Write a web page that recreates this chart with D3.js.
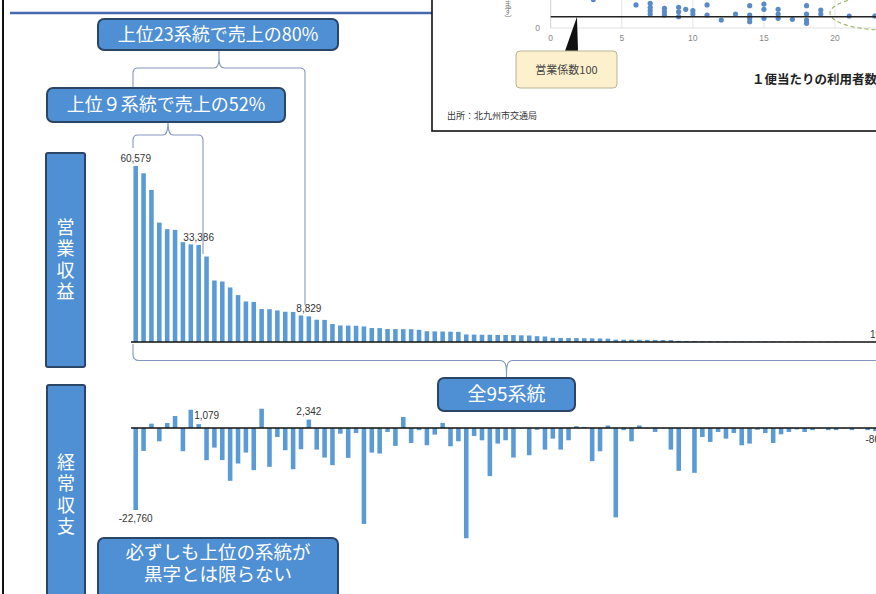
<!DOCTYPE html>
<html><head><meta charset="utf-8">
<script src="https://cdn.jsdelivr.net/npm/d3@7"></script>
<style>
html,body{margin:0;padding:0;background:#fff;}
svg{display:block;}
</style></head><body>
<svg id="c" width="876" height="594"></svg>
<script>
// Route rank (1 = largest operating revenue)
const ranks = d3.range(1, 96);

// 営業収益 per route, sorted descending
const revenue = [
  60579, 58080, 52340, 41100, 38830, 38590, 34370, 33600, 33386, 29420,
  21170, 20830, 18770, 16150, 13950, 13800, 11340, 11300, 10860, 10410,
  10350, 9140, 8829, 7660, 7600, 6190, 5700, 5650, 5600, 5360,
  4810, 4780, 4470, 4450, 4430, 4410, 4200, 3700, 3650, 3600,
  3550, 3500, 2600, 2550, 2500, 2480, 2450, 2400, 2380, 2300,
  2250, 2000, 1900, 1450, 1400, 1380, 1350, 1300, 1250, 1200,
  1150, 800, 790, 780, 760, 740, 720, 700, 650, 400,
  360, 330, 240, 230, 220, 210, 200, 190, 180, 170,
  160, 150, 140, 130, 120, 110, 100, 90, 80, 70,
  60, 50, 40, 30, 19
];

// 経常収支 per route, same order
const balance = [
  -22760, -6360, 1200, -3690, 1380, 3320, -6450, 5070, 1079, -8940,
  -5440, -8900, -14650, -9860, -6820, -11700, 5350, -10780, -2490, -6170,
  -11430, -5900, 2342, -6000, -8200, -10320, -1570, -8290, -1380, -26630,
  -6820, -7100, -1100, -4980, 3040, -4150, -600, -4790, -1840, 1380,
  -5070, -3690, -30600, -2210, -3410, -13360, -4330, -3400, -8200, -150,
  -7560, -500, -6000, -2950, -6000, -3400, 500, 300, -9210, -6450,
  700, -24790, -600, -3690, 700, -100, -1100, -100, -6000, -11890,
  -200, -12440, -2490, -3870, -1100, -2950, -1380, -4790, -4330, -500,
  -1380, -4150, -1750, -1100, -400, -1100, -600, -100, -600, -600,
  -100, -600, -100, -600, -863
];

// Routes whose values are printed
const revenueLabelIdx = [0, 8, 22, 94];
const balanceLabelIdx = [0, 8, 22, 94];

// Inset scatter: riders per trip vs. operating ratio
const ridersPerTrip = [3, 6, 7, 7, 7, 7, 8, 8, 8, 9, 9, 9, 9.5, 10, 10, 11, 11, 12, 13,
  14, 14, 14, 14, 15, 15, 15, 16, 16, 16, 17, 18, 18, 18, 18, 19, 19, 21, 22.8];
const operatingRatio = [250, 204, 218, 183, 153, 124, 174, 144, 115, 183, 144, 100, 165, 153, 124, 204, 115, 71, 124,
  198, 115, 86, 56, 212, 165, 86, 165, 124, 86, 77, 198, 124, 71, 41, 159, 124, 106, 106];
const scatterTicks = [0, 5, 10, 15, 20];

const fmt = d3.formatLocale({decimal: ".", thousands: ",", grouping: [3], currency: ["", ""], minus: "-"}).format(",");

const svg = d3.select("#c");
const JP = "'Noto Sans CJK JP','Noto Sans',sans-serif";
const LAT = "'Liberation Sans',Arial,sans-serif";
const BAR = "#5b9bd5";
const BOX = "#4f8fd3";
const BOX_EDGE = "#2a4566";
const BRACE = "#8397bb";

// ---- frame ----
svg.append("rect").attr("width", 876).attr("height", 594).attr("fill", "#fff");
svg.append("line").attr("x1", 3).attr("x2", 3).attr("y1", 0).attr("y2", 594)
  .attr("stroke", "#111").attr("stroke-width", 2);
svg.append("line").attr("x1", 10).attr("x2", 432).attr("y1", 13).attr("y2", 13)
  .attr("stroke", "#4369b0").attr("stroke-width", 2.6);

// ---- shared x scale ----
const x = d3.scaleBand().domain(d3.range(95))
  .range([131.77, 131.77 + 95 * 7.87]).paddingInner(0.42).paddingOuter(0.21);
const cx = i => x(i) + x.bandwidth() / 2;

// ---- 営業収益 ----
const yTop = d3.scaleLinear().domain([0, 60579]).range([342, 166]);
svg.append("g").selectAll("rect").data(revenue).join("rect")
  .attr("x", (d, i) => x(i)).attr("width", x.bandwidth())
  .attr("y", d => yTop(d)).attr("height", d => yTop(0) - yTop(d))
  .attr("fill", BAR);
svg.append("line").attr("x1", 131).attr("x2", 876).attr("y1", yTop(0)).attr("y2", yTop(0))
  .attr("stroke", "#111").attr("stroke-width", 1.5);
svg.append("g").selectAll("text").data(revenueLabelIdx).join("text")
  .attr("x", i => cx(i)).attr("y", i => yTop(revenue[i]) - 4)
  .attr("text-anchor", "middle").attr("font-family", LAT).attr("font-size", 10)
  .attr("fill", "#333").text(i => fmt(revenue[i]));

// ---- 経常収支 ----
const yBot = d3.scaleLinear().domain([-22760, 0]).range([510, 428]);
svg.append("g").selectAll("rect").data(balance).join("rect")
  .attr("x", (d, i) => x(i)).attr("width", x.bandwidth())
  .attr("y", d => Math.min(yBot(d), yBot(0)))
  .attr("height", d => Math.abs(yBot(d) - yBot(0)))
  .attr("fill", BAR);
svg.append("line").attr("x1", 131).attr("x2", 876).attr("y1", yBot(0)).attr("y2", yBot(0))
  .attr("stroke", "#111").attr("stroke-width", 1.5);
svg.append("g").selectAll("text").data(balanceLabelIdx).join("text")
  .attr("x", i => cx(i) + (i === 8 ? 8 : 0))
  .attr("y", i => balance[i] < 0 ? yBot(balance[i]) + 12 : yBot(balance[i]) - 5)
  .attr("text-anchor", "middle").attr("font-family", LAT).attr("font-size", 10)
  .attr("fill", "#333").text(i => fmt(balance[i]));

// ---- braces ----
function brace(x1, x2, y, dir, r, tip) {
  // dir = -1: middle points up, ends curl down; dir = 1: reverse
  const m = (x1 + x2) / 2;
  return `M${x1},${y - dir * r} Q${x1},${y} ${x1 + r},${y} L${m - r},${y} ` +
    `Q${m},${y} ${m},${y + dir * tip} Q${m},${y} ${m + r},${y} L${x2 - r},${y} Q${x2},${y} ${x2},${y - dir * r}`;
}
const braces = svg.append("g").attr("fill", "none").attr("stroke", BRACE).attr("stroke-width", 1.1);
// top 23 routes
braces.append("path").attr("d", brace(133, 305, 68, -1, 5, 10));
braces.append("line").attr("x1", 219).attr("x2", 219).attr("y1", 50).attr("y2", 58);
braces.append("line").attr("x1", 133).attr("x2", 133).attr("y1", 73).attr("y2", 90);
braces.append("line").attr("x1", 305).attr("x2", 305).attr("y1", 73).attr("y2", 305);
// top 9 routes
braces.append("path").attr("d", brace(133, 203, 135, -1, 5, 13));
braces.append("line").attr("x1", 133).attr("x2", 133).attr("y1", 140).attr("y2", 148);
braces.append("line").attr("x1", 203).attr("x2", 203).attr("y1", 140).attr("y2", 254);
// all 95 routes
braces.append("path").attr("d", brace(133, 880, 360.5, 1, 6, 11));
braces.append("line").attr("x1", 133).attr("x2", 133).attr("y1", 344).attr("y2", 355);
braces.append("line").attr("x1", 506.5).attr("x2", 506.5).attr("y1", 371).attr("y2", 378);

// ---- callout boxes ----
function box(x0, y0, w, h, lines, fs, firstY, lh) {
  const g = svg.append("g");
  g.append("rect").attr("x", x0).attr("y", y0).attr("width", w).attr("height", h)
    .attr("rx", 6).attr("fill", BOX).attr("stroke", BOX_EDGE).attr("stroke-width", 2);
  const t = g.append("text").attr("text-anchor", "middle").attr("font-family", JP)
    .attr("font-size", fs).attr("fill", "#fff");
  lines.forEach((s, k) => t.append("tspan").attr("x", x0 + w / 2)
    .attr("y", firstY + k * lh).attr("dy", "0.36em").text(s));
}
box(98, 19, 240, 31, ["上位23系統で売上の80%"], 18, 34.5, 0);
box(47, 88, 238, 34, ["上位９系統で売上の52%"], 18, 105, 0);
box(438, 378, 137, 33, ["全95系統"], 19, 394.5, 0);
box(98, 538, 240, 70, ["必ずしも上位の系統が", "黒字とは限らない"], 18.5, 552, 22.5);

// vertical section labels, set as vertical text
function vbox(x0, y0, w, h, label, yMid) {
  const g = svg.append("g");
  g.append("rect").attr("x", x0).attr("y", y0).attr("width", w).attr("height", h)
    .attr("rx", 2).attr("fill", BOX).attr("stroke", BOX_EDGE).attr("stroke-width", 2);
  g.append("text").attr("x", x0 + w / 2).attr("y", yMid)
    .attr("text-anchor", "middle").attr("font-family", JP).attr("font-size", 18)
    .attr("letter-spacing", 3.5).style("writing-mode", "vertical-rl")
    .attr("fill", "#fff").text(label);
}
vbox(46, 153, 39, 214, "営業収益", 261);
vbox(47, 385, 38, 220, "経常収支", 496);

// ---- inset scatter ----
const inset = svg.append("g");
inset.append("clipPath").attr("id", "ic").append("rect")
  .attr("x", 432).attr("y", 0).attr("width", 444).attr("height", 131);
inset.append("rect").attr("x", 432).attr("y", -5).attr("width", 460).attr("height", 136)
  .attr("fill", "#fff").attr("stroke", "#111").attr("stroke-width", 1.6);
const ip = inset.append("g").attr("clip-path", "url(#ic)");
const xs = d3.scaleLinear().domain([0, 20]).range([550.7, 835]);
const ys = d3.scaleLinear().domain([0, 100]).range([28, 16.7]);
ip.append("g").selectAll("line").data(scatterTicks).join("line")
  .attr("x1", d => xs(d)).attr("x2", d => xs(d)).attr("y1", 0).attr("y2", ys(0))
  .attr("stroke", d => d === 0 ? "#cfcfcf" : "#e6e6e6").attr("stroke-width", 1);
ip.append("line").attr("x1", xs(0)).attr("x2", 876).attr("y1", ys(0)).attr("y2", ys(0))
  .attr("stroke", "#e0e0e0");
ip.append("g").selectAll("text").data(scatterTicks).join("text")
  .attr("x", d => xs(d)).attr("y", 41).attr("text-anchor", "middle")
  .attr("font-family", LAT).attr("font-size", 8.5).attr("fill", "#888").text(d => d);
ip.append("text").attr("x", 540).attr("y", 31).attr("text-anchor", "end")
  .attr("font-family", LAT).attr("font-size", 8.5).attr("fill", "#888").text("0");
ip.append("text").attr("x", 508).attr("y", 0).attr("font-family", JP).attr("font-size", 7.5)
  .attr("fill", "#777").style("writing-mode", "vertical-rl").text("まず）");
ip.append("ellipse").attr("cx", 885).attr("cy", 13).attr("rx", 55).attr("ry", 17)
  .attr("fill", "none").attr("stroke", "#9bb25a").attr("stroke-width", 1.1).attr("stroke-dasharray", "4,3");
ip.append("g").selectAll("circle").data(ridersPerTrip).join("circle")
  .attr("cx", d => xs(d)).attr("cy", (d, i) => ys(operatingRatio[i])).attr("r", 2.6)
  .attr("fill", "#5a8bc7");
ip.append("line").attr("x1", xs(0)).attr("x2", 876).attr("y1", ys(100)).attr("y2", ys(100))
  .attr("stroke", "#222").attr("stroke-width", 1.5);
// 営業係数100 callout
ip.append("path").attr("d", `M565,51 L578,51 L${xs(1.85)},${ys(100)} Z`).attr("fill", "#111");
ip.append("rect").attr("x", 516).attr("y", 51).attr("width", 101).attr("height", 37).attr("rx", 4)
  .attr("fill", "#fdf1cd").attr("stroke", "#b8b39a").attr("stroke-width", 1);
ip.append("text").attr("x", 566.5).attr("y", 70).attr("dy", "0.36em").attr("text-anchor", "middle")
  .attr("font-family", JP).attr("font-size", 11).attr("fill", "#444").text("営業係数100");
ip.append("text").attr("x", 752).attr("y", 84).attr("font-family", JP).attr("font-size", 12.5)
  .attr("font-weight", 600).attr("fill", "#222").text("１便当たりの利用者数");
ip.append("text").attr("x", 447).attr("y", 119).attr("font-family", JP).attr("font-size", 9)
  .attr("fill", "#333").text("出所：北九州市交通局");
</script>
</body></html>
